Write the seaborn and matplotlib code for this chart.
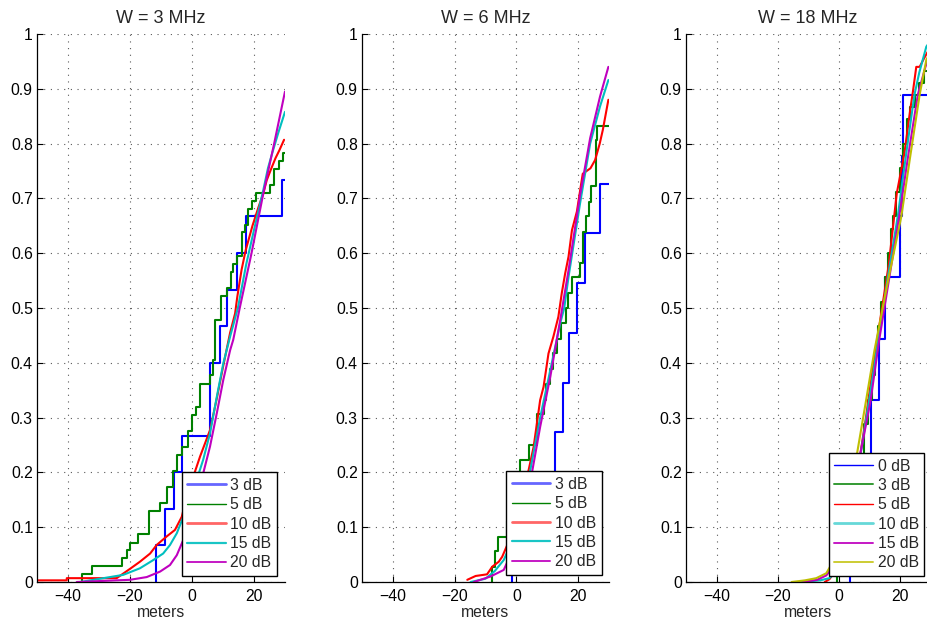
import matplotlib
matplotlib.use("Agg")
import matplotlib.pyplot as plt
import pandas as pd
import seaborn as sns

# ---------------- data ----------------
titles = ["W = 3 MHz", "W = 6 MHz", "W = 18 MHz"]
x_ticks = [-40, -20, 0, 20]
y_ticks = [0, 0.1, 0.2, 0.3, 0.4, 0.5, 0.6, 0.7, 0.8, 0.9, 1.0]
y_tick_labels = ["0", "0.1", "0.2", "0.3", "0.4", "0.5", "0.6", "0.7", "0.8", "0.9", "1"]
x_label = "meters"
ecdf_tail = 40  # the empirical CDFs continue beyond the visible range

labels_a = ["3 dB", "5 dB", "10 dB", "15 dB", "20 dB"]
labels_b = ["0 dB", "3 dB", "5 dB", "10 dB", "15 dB", "20 dB"]

# ---- W = 3 MHz ----
w3_3db_x = [-11.6, -8.7, -5.8, -3.3, 5.8, 5.8, 9.0, 11.2, 14.6, 17.4, 28.9]
w3_3db_y = [0.067, 0.133, 0.2, 0.267, 0.333, 0.4, 0.467, 0.533, 0.6, 0.667, 0.733]
w3_5db_x = [-35.6, -32.2, -22.6, -21.0, -20.0, -17.3, -13.8, -10.3, -8.2, -6.0, -4.9, -3.1,
            -1.2, -0.1, 1.2, 2.6, 5.8, 6.7, 7.4, 9.3, 11.3, 12.6, 13.2, 14.6, 16.0, 17.1,
            18.2, 19.3, 20.6, 25.2, 26.5, 28.0, 29.3]
w3_5db_y = [0.014, 0.029, 0.043, 0.058, 0.072, 0.087, 0.130, 0.145, 0.174, 0.203, 0.232, 0.246,
            0.275, 0.304, 0.319, 0.362, 0.377, 0.406, 0.478, 0.522, 0.536, 0.565, 0.580, 0.594,
            0.638, 0.652, 0.681, 0.696, 0.710, 0.725, 0.754, 0.768, 0.783]
w3_10db_x = [-55, -40.4, -40.4, -24.3, -20.0, -16.8, -13.5, -11.4, -8.2, -5.5, -3.3, -1.7, 0.4,
             2.6, 4.2, 5.8, 8.0, 10.1, 12.3, 13.9, 14.6, 16.0, 17.3, 19.5, 21.5, 23.0, 24.1,
             25.4, 26.9, 28.2, 29.7]
w3_10db_y = [0.003, 0.003, 0.007, 0.007, 0.024, 0.037, 0.052, 0.0675, 0.083, 0.095, 0.119, 0.156,
             0.192, 0.229, 0.253, 0.277, 0.335, 0.395, 0.455, 0.49, 0.52, 0.57, 0.605, 0.65,
             0.685, 0.709, 0.733, 0.752, 0.773, 0.788, 0.807]
w3_15db_x = [-36, -30.7, -22.2, -16.8, -12.5, -9.3, -7.1, -4.9, -2.8, -0.6, 1.5, 3.6, 5.8, 8.0,
             10.1, 12.3, 14.8, 17.5, 20.5, 23.0, 24.5, 26.0, 27.8, 30.0]
w3_15db_y = [0.0, 0.005, 0.013, 0.025, 0.040, 0.052, 0.0675, 0.089, 0.119, 0.156, 0.186, 0.223,
             0.271, 0.338, 0.399, 0.448, 0.50, 0.58, 0.655, 0.715, 0.755, 0.785, 0.819, 0.858]
w3_20db_x = [-37.2, -20.0, -14.6, -10.3, -7.1, -4.9, -2.8, -0.6, 1.5, 3.6, 5.8, 8.0, 10.1, 12.3,
             13.3, 15.4, 19.2, 23.0, 26.5, 30.0]
w3_20db_y = [0.0, 0.004, 0.009, 0.019, 0.031, 0.049, 0.077, 0.113, 0.156, 0.198, 0.247, 0.308,
             0.369, 0.423, 0.442, 0.50, 0.60, 0.709, 0.80, 0.895]

# ---- W = 6 MHz ----
w6_3db_x = [-1.4, 6.0, 12.4, 15.1, 16.9, 19.6, 22.3, 27.1]
w6_3db_y = [0.091, 0.182, 0.273, 0.364, 0.455, 0.545, 0.636, 0.727]
w6_5db_x = [-7.8, -6.8, -5.8, -3.0, -1.0, 0.3, 1.3, 4.0, 6.7, 8.8, 9.5, 11.0, 12.0, 13.1, 14.5,
            16.0, 16.8, 18.0, 20.6, 21.5, 22.6, 23.4, 24.1, 25.8, 26.2]
w6_5db_y = [0.028, 0.056, 0.083, 0.111, 0.139, 0.167, 0.222, 0.250, 0.306, 0.333, 0.361, 0.389,
            0.417, 0.444, 0.472, 0.5, 0.528, 0.556, 0.583, 0.639, 0.667, 0.694, 0.722, 0.806, 0.833]
w6_10db_x = [-15.9, -13.2, -9.5, -7.8, -5.7, -4.6, -2.0, 1.0, 4.0, 5.6, 7.7, 8.8, 10.4, 12.0, 13.6,
             14.7, 15.8, 16.9, 18.0, 19.6, 20.8, 21.5, 24.0, 25.5, 27.0, 28.0, 29.8]
w6_10db_y = [0.004, 0.011, 0.014, 0.028, 0.037, 0.046, 0.08, 0.14, 0.205, 0.247, 0.332, 0.356,
             0.417, 0.448, 0.484, 0.527, 0.563, 0.594, 0.642, 0.676, 0.72, 0.745, 0.755, 0.77,
             0.80, 0.825, 0.88]
w6_15db_x = [-14.8, -10, -7, -4.1, -1, 2, 4.5, 7.7, 11.0, 14.2, 15.5, 16.9, 20.6, 23.9, 27.1, 29.8]
w6_15db_y = [0.0, 0.006, 0.02, 0.040, 0.08, 0.14, 0.204, 0.30, 0.387, 0.472, 0.50, 0.557, 0.69,
             0.80, 0.868, 0.916]
w6_20db_x = [-13.8, -8.4, -4.1, -1, 2, 5.1, 7.7, 11.0, 14.2, 16.9, 20.6, 23.9, 27.1, 29.8]
w6_20db_y = [0.0, 0.01, 0.022, 0.06, 0.13, 0.201, 0.283, 0.375, 0.478, 0.569, 0.705, 0.81, 0.886,
             0.94]

# ---- W = 18 MHz ----
w18_0db_x = [3.8, 7.5, 10.7, 13.2, 15.1, 20.0, 20.8, 21.1]
w18_0db_y = [0.111, 0.222, 0.333, 0.444, 0.556, 0.667, 0.778, 0.889]
w18_3db_x = [-0.5, 2.5, 5.0, 7.0, 8.5, 9.8, 11.0, 12.0, 13.0, 14.0, 15.2, 16.3, 17.2, 18.0, 19.0,
             20.0, 21.2, 22.4, 23.3, 25.0, 26.5, 28.0, 29.5]
w18_3db_y = [0.022, 0.089, 0.156, 0.222, 0.289, 0.333, 0.378, 0.422, 0.467, 0.511, 0.556, 0.600,
             0.644, 0.667, 0.711, 0.756, 0.800, 0.844, 0.867, 0.889, 0.911, 0.933, 0.956]
w18_5db_x = [-4.5, -3.0, -1.0, 1.5, 4.0, 6.5, 9.0, 11.5, 14.0, 16.5, 19.1, 21.6, 23.5, 24.4, 25.5,
             26.6, 28.0, 30.0]
w18_5db_y = [0.0, 0.005, 0.02, 0.06, 0.12, 0.21, 0.30, 0.40, 0.49, 0.58, 0.709, 0.782, 0.861,
             0.895, 0.94, 0.94, 0.955, 0.975]
w18_10db_x = [-12, -6, -3.0, -0.5, 2, 4.5, 7.0, 10.0, 13.0, 16.0, 19.5, 22.4, 24.9, 26.5, 28.8, 30.5]
w18_10db_y = [0.0, 0.003, 0.007, 0.02, 0.06, 0.13, 0.225, 0.33, 0.44, 0.55, 0.67, 0.79, 0.889,
              0.93, 0.977, 0.99]
w18_15db_x = [-11.6, -7, -4, -1.5, 1, 3.5, 6.5, 10.5, 13.3, 16.5, 19.9, 22.8, 26.0, 28.5, 30.5]
w18_15db_y = [0.0, 0.004, 0.012, 0.03, 0.07, 0.13, 0.215, 0.33, 0.44, 0.55, 0.667, 0.776, 0.889,
              0.94, 0.97]
w18_20db_x = [-15.4, -11, -7.3, -4.0, -1.5, 1.5, 4.0, 6.1, 9.0, 11.8, 14.5, 16.5, 20.6, 23.5,
              26.6, 28.8, 30.5]
w18_20db_y = [0.0, 0.003, 0.007, 0.016, 0.04, 0.1, 0.17, 0.235, 0.33, 0.423, 0.50, 0.557, 0.667,
              0.776, 0.889, 0.953, 0.97]

# ---------------- style ----------------
C_BLUE = (0, 0, 1)
C_GREEN = (0, 0.5, 0)
C_RED = (1, 0, 0)
C_CYAN = (0, 0.75, 0.75)
C_MAG = (0.75, 0, 0.75)
C_OLIVE = (0.75, 0.75, 0)

# (x, y, is_step, color, legend line width, legend alpha)
panels = [
    (labels_a, [
        (w3_3db_x, w3_3db_y, True, C_BLUE, 2.0, 0.6),
        (w3_5db_x, w3_5db_y, True, C_GREEN, 1.0, 1.0),
        (w3_10db_x, w3_10db_y, False, C_RED, 2.0, 0.6),
        (w3_15db_x, w3_15db_y, False, C_CYAN, 1.6, 0.9),
        (w3_20db_x, w3_20db_y, False, C_MAG, 1.4, 0.9),
    ]),
    (labels_a, [
        (w6_3db_x, w6_3db_y, True, C_BLUE, 2.0, 0.6),
        (w6_5db_x, w6_5db_y, True, C_GREEN, 1.0, 1.0),
        (w6_10db_x, w6_10db_y, False, C_RED, 2.0, 0.6),
        (w6_15db_x, w6_15db_y, False, C_CYAN, 1.6, 0.9),
        (w6_20db_x, w6_20db_y, False, C_MAG, 1.4, 0.9),
    ]),
    (labels_b, [
        (w18_0db_x, w18_0db_y, True, C_BLUE, 1.0, 1.0),
        (w18_3db_x, w18_3db_y, True, C_GREEN, 1.4, 0.8),
        (w18_5db_x, w18_5db_y, False, C_RED, 1.0, 1.0),
        (w18_10db_x, w18_10db_y, False, C_CYAN, 2.0, 0.6),
        (w18_15db_x, w18_15db_y, False, C_MAG, 1.4, 0.9),
        (w18_20db_x, w18_20db_y, False, C_OLIVE, 1.4, 0.8),
    ]),
]

sns.set_style("ticks")
plt.rcParams['font.family'] = ['Liberation Sans', 'DejaVu Sans']
plt.rcParams['axes.unicode_minus'] = True

FS = 11.3
LW = 1.5
fig = plt.figure(figsize=(9.27, 6.26), dpi=100)
W, H = 927.0, 626.0
axes_px = [(37, 285), (362, 609), (686, 930)]
top_px, bot_px = 34, 582
legend_anchor = [(0.968, 0.011), (0.970, 0.013), (0.977, 0.011)]

for i, ((labels, series), (l, r)) in enumerate(zip(panels, axes_px)):
    ax = fig.add_axes([l / W, (H - bot_px) / H, (r - l) / W, (bot_px - top_px) / H])
    for (xs, ys, is_step, col, _, _), lab in zip(series, labels):
        if is_step:
            px = [xs[0]] + list(xs) + [ecdf_tail]
            py = [0.0] + list(ys) + [ys[-1]]
            df = pd.DataFrame({"x": px, "y": py})
            sns.lineplot(data=df, x="x", y="y", ax=ax, color=col, lw=LW,
                         drawstyle="steps-post", estimator=None, sort=False,
                         legend=False, label=lab)
        else:
            df = pd.DataFrame({"x": xs, "y": ys})
            sns.lineplot(data=df, x="x", y="y", ax=ax, color=col, lw=LW,
                         estimator=None, sort=False, legend=False, label=lab)
    ax.set_xlim(-50, 30)
    ax.set_ylim(0, 1)
    ax.set_xticks(x_ticks)
    ax.set_yticks(y_ticks)
    ax.set_yticklabels(y_tick_labels)
    ax.grid(True, linestyle=(0, (1, 5)), color="0.35", lw=0.8)
    ax.set_axisbelow(True)
    for s in ("top", "right"):
        ax.spines[s].set_visible(False)
    for s in ("left", "bottom"):
        ax.spines[s].set_color("black")
        ax.spines[s].set_linewidth(0.9)
    ax.tick_params(direction="in", length=4, width=0.8, labelsize=FS, colors="black")
    ax.tick_params(axis="y", pad=3)
    ax.tick_params(axis="x", pad=5)
    ax.set_xlabel(x_label, fontsize=FS, labelpad=1)
    ax.set_ylabel("")
    ax.set_title(titles[i], fontsize=13, pad=8)

    leg = ax.legend(loc="lower right", bbox_to_anchor=legend_anchor[i], borderaxespad=0,
                    fontsize=FS, handlelength=2.45, handletextpad=0.3, borderpad=0.35,
                    labelspacing=0.28, fancybox=False, framealpha=1, edgecolor="black")
    leg.get_frame().set_linewidth(1.0)
    for ln, (_, _, _, _, lw, a) in zip(leg.get_lines(), series):
        ln.set_linewidth(lw)
        ln.set_alpha(a)

fig.savefig("out.png", dpi=100)
